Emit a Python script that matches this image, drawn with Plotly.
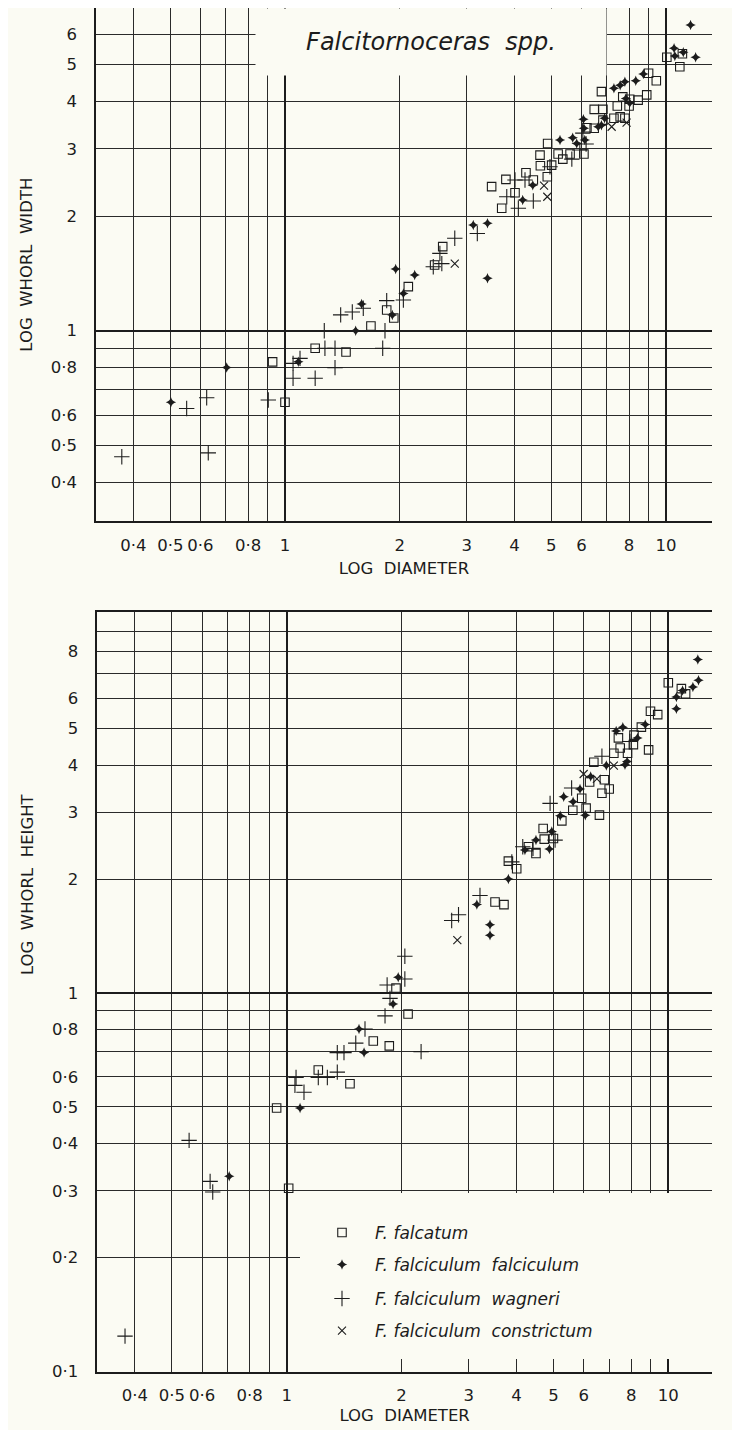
import plotly.graph_objects as go

# ---------------- data (diameter, whorl width) ----------------
w_falcatum_d = [0.928, 1.0, 1.20, 1.446, 1.681, 1.849, 1.93, 2.107, 2.47, 2.594, 3.486, 3.705, 4.015, 3.80, 4.29,
                4.485, 4.88, 4.67, 4.68, 4.89, 5.01, 5.21, 5.36, 5.60, 6.09, 6.2, 6.48, 6.83, 7.3, 7.58, 7.8, 7.45,
                8.0, 8.03, 7.7, 8.45, 8.9, 6.83, 6.48, 6.77, 9.0, 9.43, 10.05, 11.04, 10.87]
w_falcatum_w = [0.828, 0.649, 0.899, 0.879, 1.029, 1.133, 1.08, 1.305, 1.487, 1.662, 2.388, 2.096, 2.302, 2.496, 2.598,
                2.486, 2.536, 2.89, 2.71, 3.10, 2.72, 2.91, 2.82, 2.91, 2.91, 3.41, 3.40, 3.57, 3.61, 3.64, 3.61, 3.89,
                3.89, 4.05, 4.11, 4.03, 4.16, 3.81, 3.81, 4.24, 4.74, 4.53, 5.22, 5.33, 4.93]

w_ffalc_d = [0.502, 0.703, 1.084, 1.533, 1.589, 1.913, 1.952, 2.045, 2.19, 3.12, 3.40, 3.40, 4.206, 4.47, 5.27,
             5.69, 5.83, 6.07, 6.09, 6.12, 6.64, 6.77, 6.9, 7.85, 8.03, 7.3, 7.58, 7.8, 8.33, 8.72, 10.5, 10.55,
             11.96, 11.6, 11.1]
w_ffalc_w = [0.649, 0.80, 0.829, 1.0, 1.175, 1.10, 1.452, 1.253, 1.40, 1.894, 1.914, 1.372, 2.203, 2.41, 3.167,
             3.21, 3.10, 3.59, 3.40, 3.167, 3.43, 3.46, 3.61, 4.07, 3.96, 4.33, 4.41, 4.50, 4.53, 4.72, 5.51, 5.26,
             5.22, 6.34, 5.38]

w_wagneri_d = [0.373, 0.552, 0.623, 0.629, 0.904, 1.05, 1.095, 1.05, 1.20, 1.353, 1.273, 1.353, 1.268, 1.40, 1.502,
               1.605, 1.83, 1.805, 1.849, 2.045, 2.45, 2.58, 2.55, 2.79, 3.197, 4.097, 4.485, 3.82, 4.265, 4.015,
               4.96, 5.66, 5.94, 6.17, 6.05]
w_wagneri_w = [0.467, 0.625, 0.667, 0.478, 0.658, 0.821, 0.846, 0.75, 0.75, 0.80, 0.899, 0.899, 1.0, 1.10, 1.12,
               1.145, 1.0, 0.899, 1.199, 1.204, 1.472, 1.50, 1.596, 1.748, 1.80, 2.096, 2.19, 2.247, 2.486, 2.486,
               2.694, 2.82, 2.98, 3.09, 3.30]

w_constr_d = [2.79, 4.88, 4.785, 7.2, 7.88]
w_constr_w = [1.50, 2.247, 2.402, 3.43, 3.515]

# ---------------- data (diameter, whorl height) ----------------
h_falcatum_d = [1.012, 0.941, 1.21, 1.465, 1.686, 1.857, 1.934, 2.08, 3.515, 3.71, 3.81, 4.006, 4.30, 4.50, 4.70,
                4.73, 5.0, 5.26, 5.62, 5.93, 6.09, 6.6, 6.7, 7.0, 6.22, 6.8, 6.38, 7.2, 7.48, 7.4, 7.82, 8.1, 8.13,
                8.5, 8.88, 8.98, 9.38, 10.0, 10.82, 11.1]
h_falcatum_h = [0.305, 0.497, 0.626, 0.576, 0.747, 0.725, 1.03, 0.88, 1.74, 1.712, 2.23, 2.13, 2.435, 2.337, 2.72,
                2.55, 2.56, 2.85, 3.04, 3.27, 3.08, 2.95, 3.37, 3.46, 3.61, 3.66, 4.07, 4.30, 4.44, 4.72, 4.30, 4.53,
                4.80, 5.04, 4.39, 5.55, 5.44, 6.60, 6.37, 6.17]

h_ffalc_d = [0.707, 1.084, 1.547, 1.595, 1.96, 1.90, 3.41, 3.41, 3.15, 3.81, 4.21, 4.50, 4.88, 4.95, 5.21, 5.32,
             5.87, 5.63, 6.06, 6.26, 6.88, 7.7, 7.8, 7.3, 7.6, 8.3, 8.7, 10.5, 10.5, 11.6, 12.0, 11.95, 10.9]
h_ffalc_h = [0.328, 0.497, 0.803, 0.696, 1.10, 0.935, 1.515, 1.42, 1.712, 2.0, 2.385, 2.535, 2.40, 2.67, 2.94, 3.30,
             3.46, 3.20, 2.95, 3.73, 3.99, 4.01, 4.09, 4.92, 5.04, 4.72, 5.12, 6.05, 5.64, 6.43, 6.70, 7.6, 6.3]

h_wagneri_d = [0.377, 0.63, 0.64, 0.555, 1.058, 1.051, 1.11, 1.21, 1.278, 1.357, 1.357, 1.413, 1.517, 1.604, 1.81,
               1.833, 1.865, 2.04, 2.04, 2.25, 2.706, 2.82, 3.21, 3.89, 4.155, 4.42, 5.05, 4.90, 5.58, 6.7, 7.93]
h_wagneri_h = [0.124, 0.318, 0.298, 0.408, 0.598, 0.570, 0.547, 0.598, 0.598, 0.618, 0.696, 0.696, 0.737, 0.803, 0.87,
               1.05, 0.968, 1.251, 1.089, 0.70, 1.555, 1.61, 1.81, 2.22, 2.435, 2.41, 2.535, 3.17, 3.48, 4.22, 4.62]

h_constr_d = [2.8, 6.0, 6.5, 7.2]
h_constr_h = [1.38, 3.79, 3.68, 3.99]

# ---------------- ticks ----------------
x_tickvals = [0.4, 0.5, 0.6, 0.7, 0.8, 0.9, 1, 2, 3, 4, 5, 6, 7, 8, 9, 10]
x_ticktext = ['0·4', '0·5', '0·6', '', '0·8', '', '1', '2', '3', '4', '5', '6', '', '8', '', '10']
yw_tickvals = [0.4, 0.5, 0.6, 0.7, 0.8, 0.9, 1, 2, 3, 4, 5, 6]
yw_ticktext = ['0·4', '0·5', '0·6', '', '0·8', '', '1', '2', '3', '4', '5', '6']
yh_tickvals = [0.1, 0.2, 0.3, 0.4, 0.5, 0.6, 0.7, 0.8, 0.9, 1, 2, 3, 4, 5, 6, 7, 8, 9]
yh_ticktext = ['0·1', '0·2', '0·3', '0·4', '0·5', '0·6', '', '0·8', '', '1', '2', '3', '4', '5', '6', '', '8', '']
x_heavy = [1, 10]
y_heavy = [1]

names = ['F. falcatum', 'F. falciculum  falciculum', 'F. falciculum  wagneri', 'F. falciculum  constrictum']

BG = '#fbfbf3'
INK = '#1c1c1c'
FONT = 'DejaVu Sans'

# the page body adds an 8px margin, so the figure is sized/positioned to compensate
OFF = 8
W, H = 740 - OFF, 1430 - OFF


def px(x):
    return (x - OFF) / W


def py(y):
    return 1 - (y - OFF) / H


sym = [
    dict(symbol='square-open', size=8.5, color=INK, line=dict(width=1.1, color=INK)),
    dict(symbol='star-diamond', size=7.5, color=INK, line=dict(width=0)),
    dict(symbol='cross-thin-open', size=11, color=INK, line=dict(width=1.1, color=INK)),
    dict(symbol='x-thin-open', size=8, color=INK, line=dict(width=1.1, color=INK)),
]

fig = go.Figure()
top_sets = [(w_falcatum_d, w_falcatum_w), (w_ffalc_d, w_ffalc_w), (w_wagneri_d, w_wagneri_w), (w_constr_d, w_constr_w)]
bot_sets = [(h_falcatum_d, h_falcatum_h), (h_ffalc_d, h_ffalc_h), (h_wagneri_d, h_wagneri_h), (h_constr_d, h_constr_h)]
legends = ['legend', 'legend2', 'legend3', 'legend4']

# empty traces that anchor the overlay axes used for the heavier "1" / "10" rulings
for xa, ya in [('x3', 'y'), ('x4', 'y2'), ('x', 'y3'), ('x2', 'y4')]:
    fig.add_trace(go.Scatter(x=[], y=[], xaxis=xa, yaxis=ya, showlegend=False, hoverinfo='skip'))

for i, (xs, ys) in enumerate(top_sets):
    fig.add_trace(go.Scatter(x=xs, y=ys, mode='markers', marker=sym[i], name=names[i],
                             showlegend=False, xaxis='x', yaxis='y'))
for i, (xs, ys) in enumerate(bot_sets):
    fig.add_trace(go.Scatter(x=xs, y=ys, mode='markers', marker=sym[i], name=names[i],
                             showlegend=True, legend=legends[i], xaxis='x2', yaxis='y2'))

axis_common = dict(type='log', showgrid=True, gridcolor='#2a2a2a', gridwidth=1, automargin=False,
                   showline=True, linecolor=INK, linewidth=1.6, ticks='',
                   tickfont=dict(family=FONT, size=16.5, color=INK), zeroline=False, tickmode='array')
heavy_common = dict(type='log', showgrid=True, gridcolor=INK, gridwidth=2.2, automargin=False,
                    showline=False, ticks='', showticklabels=False, zeroline=False, tickmode='array')

TITLE_FONT = dict(family=FONT, size=16.5, color=INK)
rx_top = [-0.496, 1.1207]
ry_top = [-0.4995, 0.8462]
rx_bot = [-0.4963, 1.1145]
ry_bot = [-1.0005, 1.0066]

fig.update_layout(
    width=W, height=H, margin=dict(l=0, r=0, t=0, b=0),
    paper_bgcolor=BG, plot_bgcolor=BG,
    font=dict(family=FONT, color=INK),
    xaxis=dict(axis_common, domain=[px(96), px(712)], range=rx_top, mirror=True,
               tickvals=x_tickvals, ticktext=x_ticktext, anchor='y', ticklabelstandoff=8,
               title=dict(text='LOG  DIAMETER', font=TITLE_FONT, standoff=9)),
    yaxis=dict(axis_common, domain=[py(521), py(8.3)], range=ry_top,
               tickvals=yw_tickvals, ticktext=yw_ticktext, anchor='x', ticklabelstandoff=14,
               title=dict(text='LOG  WHORL  WIDTH', font=TITLE_FONT, standoff=14)),
    xaxis2=dict(axis_common, domain=[px(97.3), px(712)], range=rx_bot, mirror=True,
                tickvals=x_tickvals, ticktext=x_ticktext, anchor='y2', ticklabelstandoff=8,
                title=dict(text='LOG  DIAMETER', font=TITLE_FONT, standoff=5)),
    yaxis2=dict(axis_common, domain=[py(1371.7), py(612)], range=ry_bot,
                tickvals=yh_tickvals, ticktext=yh_ticktext, anchor='x2', ticklabelstandoff=14),
    xaxis3=dict(heavy_common, overlaying='x', anchor='y', range=rx_top, tickvals=x_heavy),
    xaxis4=dict(heavy_common, overlaying='x2', anchor='y2', range=rx_bot, tickvals=x_heavy),
    yaxis3=dict(heavy_common, overlaying='y', anchor='x', range=ry_top, tickvals=y_heavy),
    yaxis4=dict(heavy_common, overlaying='y2', anchor='x2', range=ry_bot, tickvals=y_heavy),
)

# y title of the lower panel sits above the panel centre in the original
fig.add_annotation(text='LOG  WHORL  HEIGHT', xref='paper', yref='paper', x=px(27), y=py(884),
                   xanchor='center', yanchor='middle', textangle=-90, showarrow=False, font=TITLE_FONT)

leg_rows = [1233, 1265, 1299, 1331]
for i, key in enumerate(legends):
    fig.update_layout({key: dict(x=px(309), y=py(leg_rows[i]), xanchor='left', yanchor='middle',
                                 bgcolor='rgba(0,0,0,0)', borderwidth=0, itemwidth=56,
                                 font=dict(family=FONT, size=17, style='italic', color=INK))})

# knockout behind legend (blank area on the graph paper)
fig.add_shape(type='rect', xref='paper', yref='paper', x0=px(300), x1=px(712),
              y0=py(1359), y1=py(1193), fillcolor=BG, line=dict(width=0), layer='above')

fig.add_annotation(text='Falcitornoceras  spp.', xref='paper', yref='paper',
                   x=px(431), y=py(42), xanchor='center', yanchor='middle',
                   width=350, height=66, bgcolor=BG, borderpad=0, showarrow=False,
                   font=dict(family=FONT, size=24, style='italic', color=INK))

fig.write_html('out.html')
